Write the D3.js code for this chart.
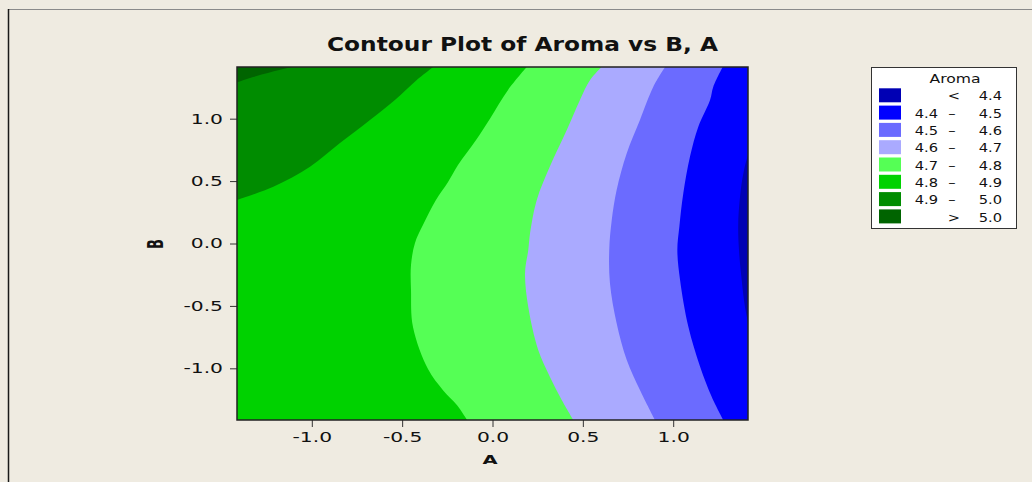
<!DOCTYPE html>
<html>
<head>
<meta charset="utf-8">
<script src="https://cdn.jsdelivr.net/npm/d3@7"></script>
<style>
  html, body { margin: 0; padding: 0; background: #EFEBE1; }
  text { font-family: "DejaVu Sans", Verdana, sans-serif; fill: #111; }
</style>
</head>
<body>
<div id="chart-area"></div>
<script>
// Contour Plot of Aroma vs B, A  (Minitab style)

const width = 1032;
const height = 482;

// coded factor range
const aRange = [-1.414, 1.414];
const bRange = [-1.414, 1.414];

const aTicks = [-1.0, -0.5, 0.0, 0.5, 1.0];
const aTickLabels = ["-1.0", "-0.5", "0.0", "0.5", "1.0"];
const bTicks = [-1.0, -0.5, 0.0, 0.5, 1.0];
const bTickLabels = ["-1.0", "-0.5", "0.0", "0.5", "1.0"];

// contour lines, [A, B] pairs
// region to the right / below each line has Aroma < level
const levels = [5.0, 4.9, 4.8, 4.7, 4.6, 4.5, 4.4];
const line50 = [[-1.11, 1.414], [-1.18, 1.39], [-1.31, 1.34], [-1.414, 1.29]];
const line49 = [[-0.328, 1.414], [-0.419, 1.31], [-0.54, 1.15], [-0.678, 0.99], [-0.844, 0.805],
                [-1.01, 0.615], [-1.213, 0.455], [-1.414, 0.349]];
const line48 = [[0.189, 1.414], [0.086, 1.23], [-0.014, 1.0], [-0.091, 0.829], [-0.191, 0.629],
                [-0.246, 0.493], [-0.313, 0.349], [-0.385, 0.148], [-0.429, 0.004], [-0.451, -0.172],
                [-0.451, -0.373], [-0.44, -0.669], [-0.357, -1.006], [-0.274, -1.175], [-0.196, -1.296],
                [-0.141, -1.414]];
const line47 = [[0.604, 1.414], [0.54, 1.31], [0.484, 1.15], [0.411, 0.909], [0.317, 0.615],
                [0.245, 0.349], [0.208, 0.084], [0.198, -0.052], [0.18, -0.236], [0.198, -0.509],
                [0.253, -0.853], [0.318, -1.069], [0.383, -1.254], [0.447, -1.414]];
const line46 = [[0.955, 1.414], [0.89, 1.256], [0.816, 0.99], [0.743, 0.723], [0.687, 0.429],
                [0.66, 0.188], [0.646, -0.052], [0.65, -0.319], [0.687, -0.639], [0.743, -0.933],
                [0.816, -1.174], [0.899, -1.414]];
const line45 = [[1.274, 1.414], [1.222, 1.256], [1.204, 1.15], [1.139, 0.936], [1.093, 0.696],
                [1.056, 0.402], [1.034, 0.135], [1.023, -0.052], [1.038, -0.292], [1.084, -0.667],
                [1.149, -0.987], [1.213, -1.228], [1.277, -1.414]];
const line44 = [[1.414, 0.709], [1.392, 0.589], [1.374, 0.429], [1.36, 0.164], [1.364, -0.052],
                [1.379, -0.292], [1.397, -0.506], [1.414, -0.629]];
const contourLines = [line50, line49, line48, line47, line46, line45, line44];

// legend, from lowest band to highest
const legendLow  = ["", "4.4", "4.5", "4.6", "4.7", "4.8", "4.9", ""];
const legendSign = ["<", "\u2013", "\u2013", "\u2013", "\u2013", "\u2013", "\u2013", ">"];
const legendHigh = ["4.4", "4.5", "4.6", "4.7", "4.8", "4.9", "5.0", "5.0"];
const bandColors = ["#0000B4", "#0000FF", "#6B6BFF", "#AAAAFF", "#55FF55", "#00D200", "#008C00", "#006400"];

// stretch text horizontally, the picture is wider than the font
function stretch(sel, k) {
    sel.each(function() {
        const w = this.getComputedTextLength();
        d3.select(this).attr("textLength", w * k).attr("lengthAdjust", "spacingAndGlyphs");
    });
}

const svg = d3.select("#chart-area")
    .append("svg")
        .attr("width", width)
        .attr("height", height);

svg.append("rect")
    .attr("width", width).attr("height", height)
    .attr("fill", "#EFEBE1");

// outer frame (only left and top show)
svg.append("line")
    .attr("x1", 8).attr("x2", width).attr("y1", 9.5).attr("y2", 9.5)
    .attr("stroke", "#8a8a8a").attr("stroke-width", 1);
svg.append("line")
    .attr("x1", 8.5).attr("x2", 8.5).attr("y1", 9).attr("y2", height)
    .attr("stroke", "#1a1a1a").attr("stroke-width", 1.5);

const x = d3.scaleLinear().domain(aRange).range([237, 748]);
const y = d3.scaleLinear().domain(bRange).range([420, 67]);

// title
const title = svg.append("text")
    .attr("x", 522.5).attr("y", 51)
    .attr("text-anchor", "middle")
    .style("font-size", "19.5px")
    .style("font-weight", "bold")
    .text("Contour Plot of Aroma vs B, A");
title.attr("textLength", 391).attr("lengthAdjust", "spacingAndGlyphs");

// filled contour bands, painted from high to low
const plot = svg.append("g");
plot.append("rect")
    .attr("x", x(aRange[0])).attr("y", y(bRange[1]))
    .attr("width", x(aRange[1]) - x(aRange[0]))
    .attr("height", y(bRange[0]) - y(bRange[1]))
    .attr("fill", bandColors[7]);

const contourPath = d3.line()
    .x(d => x(d[0]))
    .y(d => y(d[1]))
    .curve(d3.curveCatmullRom);

function regionBelow(pts) {
    // walk back along the plot edge to close the area
    const last = pts[pts.length - 1];
    const corners = [];
    if (last[0] <= aRange[0]) corners.push([aRange[0], bRange[0]]);
    corners.push([aRange[1], bRange[0]]);
    corners.push([aRange[1], bRange[1]]);
    let d = contourPath(pts);
    corners.forEach(c => { d += "L" + x(c[0]) + "," + y(c[1]); });
    return d + "Z";
}

plot.selectAll(".band")
    .data(contourLines)
    .enter()
    .append("path")
    .attr("class", "band")
    .attr("d", d => regionBelow(d))
    .attr("fill", (d, i) => bandColors[6 - i]);

// axes
const xAxis = svg.append("g")
    .attr("transform", `translate(0, 420)`)
    .call(d3.axisBottom(x).tickValues(aTicks)
        .tickFormat((d, i) => aTickLabels[i])
        .tickSize(7).tickPadding(5));
const yAxis = svg.append("g")
    .attr("transform", `translate(237, 0)`)
    .call(d3.axisLeft(y).tickValues(bTicks)
        .tickFormat((d, i) => bTickLabels[i])
        .tickSize(7).tickPadding(7));

[xAxis, yAxis].forEach(ax => {
    ax.select(".domain").remove();
    ax.selectAll(".tick line").attr("stroke", "#333").attr("stroke-width", 1);
    ax.selectAll(".tick text")
        .style("font-family", "'DejaVu Sans', Verdana, sans-serif")
        .style("font-size", "13.5px")
        .attr("fill", "#111");
    stretch(ax.selectAll(".tick text"), 1.5);
});

// plot border
svg.append("rect")
    .attr("x", x(aRange[0])).attr("y", y(bRange[1]))
    .attr("width", x(aRange[1]) - x(aRange[0]))
    .attr("height", y(bRange[0]) - y(bRange[1]))
    .attr("fill", "none")
    .attr("stroke", "#222")
    .attr("stroke-width", 1.5);

// axis titles
const aLabel = svg.append("text")
    .attr("x", 490).attr("y", 464)
    .attr("text-anchor", "middle")
    .style("font-size", "13px").style("font-weight", "bold")
    .text("A");
stretch(aLabel, 1.5);

svg.append("text")
    .attr("transform", "translate(163, 244) scale(1.6, 1) rotate(-90)")
    .attr("text-anchor", "middle")
    .style("font-size", "13px").style("font-weight", "bold")
    .text("B");

// legend
const legend = svg.append("g");
legend.append("rect")
    .attr("x", 871.5).attr("y", 67.5)
    .attr("width", 145).attr("height", 161)
    .attr("fill", "#fff")
    .attr("stroke", "#333").attr("stroke-width", 1);

const legendTitle = legend.append("text")
    .attr("x", 955).attr("y", 83)
    .attr("text-anchor", "middle")
    .style("font-size", "12px")
    .text("Aroma");
stretch(legendTitle, 1.3);

const rowStep = 17.3;
const rows = legend.selectAll(".row")
    .data(bandColors)
    .enter()
    .append("g")
    .attr("class", "row")
    .attr("transform", (d, i) => `translate(0, ${88.3 + i * rowStep})`);

rows.append("rect")
    .attr("x", 879).attr("y", 0)
    .attr("width", 22).attr("height", 14)
    .attr("fill", d => d);

rows.append("text")
    .attr("x", 938).attr("y", 12.2)
    .attr("text-anchor", "end")
    .style("font-size", "12px")
    .text((d, i) => legendLow[i]);

rows.append("text")
    .attr("x", (d, i) => (legendLow[i] === "" ? 954 : 952)).attr("y", 12.2)
    .attr("text-anchor", "middle")
    .style("font-size", "12px")
    .text((d, i) => legendSign[i]);

rows.append("text")
    .attr("x", 1002).attr("y", 12.2)
    .attr("text-anchor", "end")
    .style("font-size", "12px")
    .text((d, i) => legendHigh[i]);

stretch(rows.selectAll("text"), 1.22);
</script>
</body>
</html>
